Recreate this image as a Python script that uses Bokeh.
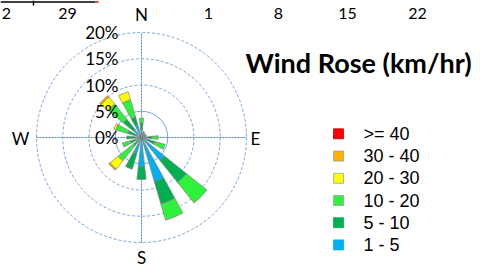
from bokeh.plotting import figure
from bokeh.models import Range1d, ColumnDataSource
from bokeh.core.properties import value
from bokeh.embed import file_html
from bokeh.resources import INLINE

# ---------------- data ----------------
directions = ["N", "NNE", "NE", "ENE", "E", "ESE", "SE", "SSE",
              "S", "SSW", "SW", "WSW", "W", "WNW", "NW", "NNW"]
bearings = [0, 22.5, 45, 67.5, 90, 112.5, 135, 157.5,
            180, 202.5, 225, 247.5, 270, 292.5, 315, 337.5]
speed_1_5   = [1.6, 0.8, 0.7, 0.7, 1.0, 1.2, 5.6, 8.8, 5.6, 3.2, 0.8, 1.0, 1.0, 1.2, 2.0, 2.6]
speed_5_10  = [1.2, 0.4, 0.3, 0.3, 1.0, 1.5, 5.4, 4.4, 2.4, 3.1, 1.2, 1.2, 1.8, 1.5, 2.5, 1.5]
speed_10_20 = [0.9, 0.0, 0.0, 0.0, 1.2, 2.0, 5.0, 3.2, 0.0, 0.0, 3.7, 1.6, 0.0, 2.4, 3.7, 3.4]
speed_20_30 = [0.0, 0.0, 0.0, 0.0, 0.0, 0.0, 0.0, 0.0, 0.0, 0.0, 2.0, 0.0, 0.0, 0.4, 1.7, 1.6]
speed_30_40 = [0.0, 0.0, 0.0, 0.0, 0.0, 0.0, 0.0, 0.0, 0.0, 0.0, 0.3, 0.0, 0.0, 0.0, 0.35, 0.0]
speed_40    = [0.0] * 16

series = [speed_1_5, speed_5_10, speed_10_20, speed_20_30, speed_30_40, speed_40]
series_names = ["1 - 5", "5 - 10", "10 - 20", "20 - 30", "30 - 40", ">= 40"]
series_colors = ["#00B0F0", "#00B050", "#2EF23C", "#FFFF00", "#FFB000", "#FF0000"]

ring_values = [5, 10, 15, 20]
ring_labels = ["5%", "10%", "15%", "20%"]
compass_labels = ["N", "E", "S", "W"]
title_text = "Wind Rose (km/hr)"
top_tick_labels = ["2", "29", "1", "8", "15", "22", "2"]

# ---------------- layout helpers (pixel -> data) ----------------
W, H = 480, 267
CX, CY = 141, 137          # rose centre in pixels
S = 5.25                   # pixels per percent


def px(x):
    return (x - CX) / S


def py(y):
    return (CY - y) / S


p = figure(width=W, height=H, output_backend="svg", toolbar_location=None,
           x_range=Range1d(px(0), px(W)), y_range=Range1d(py(H), py(0)),
           x_axis_type=None, y_axis_type=None, min_border=0)
p.grid.visible = False
p.outline_line_color = None
p.background_fill_color = "white"
p.border_fill_color = "white"

# grid rings
for i, r in enumerate(ring_values):
    p.circle(x=0, y=0, radius=r, fill_color=None, line_color="#79A3DB",
             line_width=1, line_dash="solid" if i == 0 else "3 2")
# cross lines
p.segment(x0=[-20, 0], y0=[0, -20], x1=[20, 0], y1=[0, 20],
          line_color="#4F84C8", line_width=1, line_dash="2 1")

# stacked wedges
half = 6.25
start = [0.0] * 16
for vals, name, col in zip(series, series_names, series_colors):
    inner, outer, a0, a1 = [], [], [], []
    for k in range(16):
        if vals[k] <= 0:
            continue
        inner.append(start[k])
        outer.append(start[k] + vals[k])
        ang = 90 - bearings[k]
        a0.append(ang - half)
        a1.append(ang + half)
    for k in range(16):
        start[k] += vals[k]
    if inner:
        src = ColumnDataSource(dict(x=[0] * len(inner), y=[0] * len(inner),
                                    ir=inner, orr=outer, a0=a0, a1=a1))
        p.annular_wedge(x="x", y="y", inner_radius="ir", outer_radius="orr",
                        start_angle="a0", end_angle="a1",
                        start_angle_units="deg", end_angle_units="deg",
                        source=src, fill_color=col, line_color="#808080",
                        line_width=0.7)

# percent labels
p.text(x=[px(118)] * 5, y=[0] + ring_values, text=["0%"] + ring_labels,
       text_font=value("Lato"), text_font_size="17px", text_align="right",
       text_baseline="middle", text_color="#000000")

# compass labels
p.text(x=[px(141), px(255), px(141), px(20)],
       y=[py(14), py(138), py(257), py(138)], text=compass_labels,
       text_font=value("Lato"), text_font_size="17px", text_align="center",
       text_baseline="middle", text_color="#000000")

# title
p.text(x=[px(245)], y=[py(62)], text=[title_text], text_font=value("Lato"),
       text_font_size="27px", text_font_style="bold", text_align="left",
       text_baseline="middle", text_color="#000000")

# legend
leg_y = [133.3, 155.6, 177.8, 200, 222.2, 244.4]
leg_names = list(reversed(series_names))
leg_cols = list(reversed(series_colors))
p.scatter(x=[px(338)] * 6, y=[py(v) for v in leg_y], marker="square", size=10,
          fill_color=leg_cols, line_color=["#C00000", "#A0A0A0", "#A0A0A0", "#A0A0A0",
                                           "#00B050", "#00B0F0"], line_width=0.8)
p.text(x=[px(363)] * 6, y=[py(v) for v in leg_y], text=leg_names,
       text_font=value("Liberation Sans"), text_font_size="18px",
       text_align="left", text_baseline="middle", text_color="#000000")

# fragment of a neighbouring chart at the top edge
p.segment(x0=[px(0)], y0=[py(1.5)], x1=[px(95)], y1=[py(1.5)],
          line_color="black", line_width=1.5)
p.segment(x0=[px(33), px(67)], y0=[py(0)], x1=[px(33), px(67)], y1=[py(5)],
          line_color="black", line_width=1.5)
p.segment(x0=[px(95)], y0=[py(1.5)], x1=[px(98)], y1=[py(1.5)],
          line_color="red", line_width=1.5)
top_x = [6, 67, 208, 278, 347, 417, 486]
p.text(x=[px(v) for v in top_x], y=[py(13)] * 7, text=top_tick_labels,
       text_font=value("Lato"), text_font_size="16px", text_align="center",
       text_baseline="middle", text_color="#000000")

open("out.html", "w").write(file_html(p, INLINE))
